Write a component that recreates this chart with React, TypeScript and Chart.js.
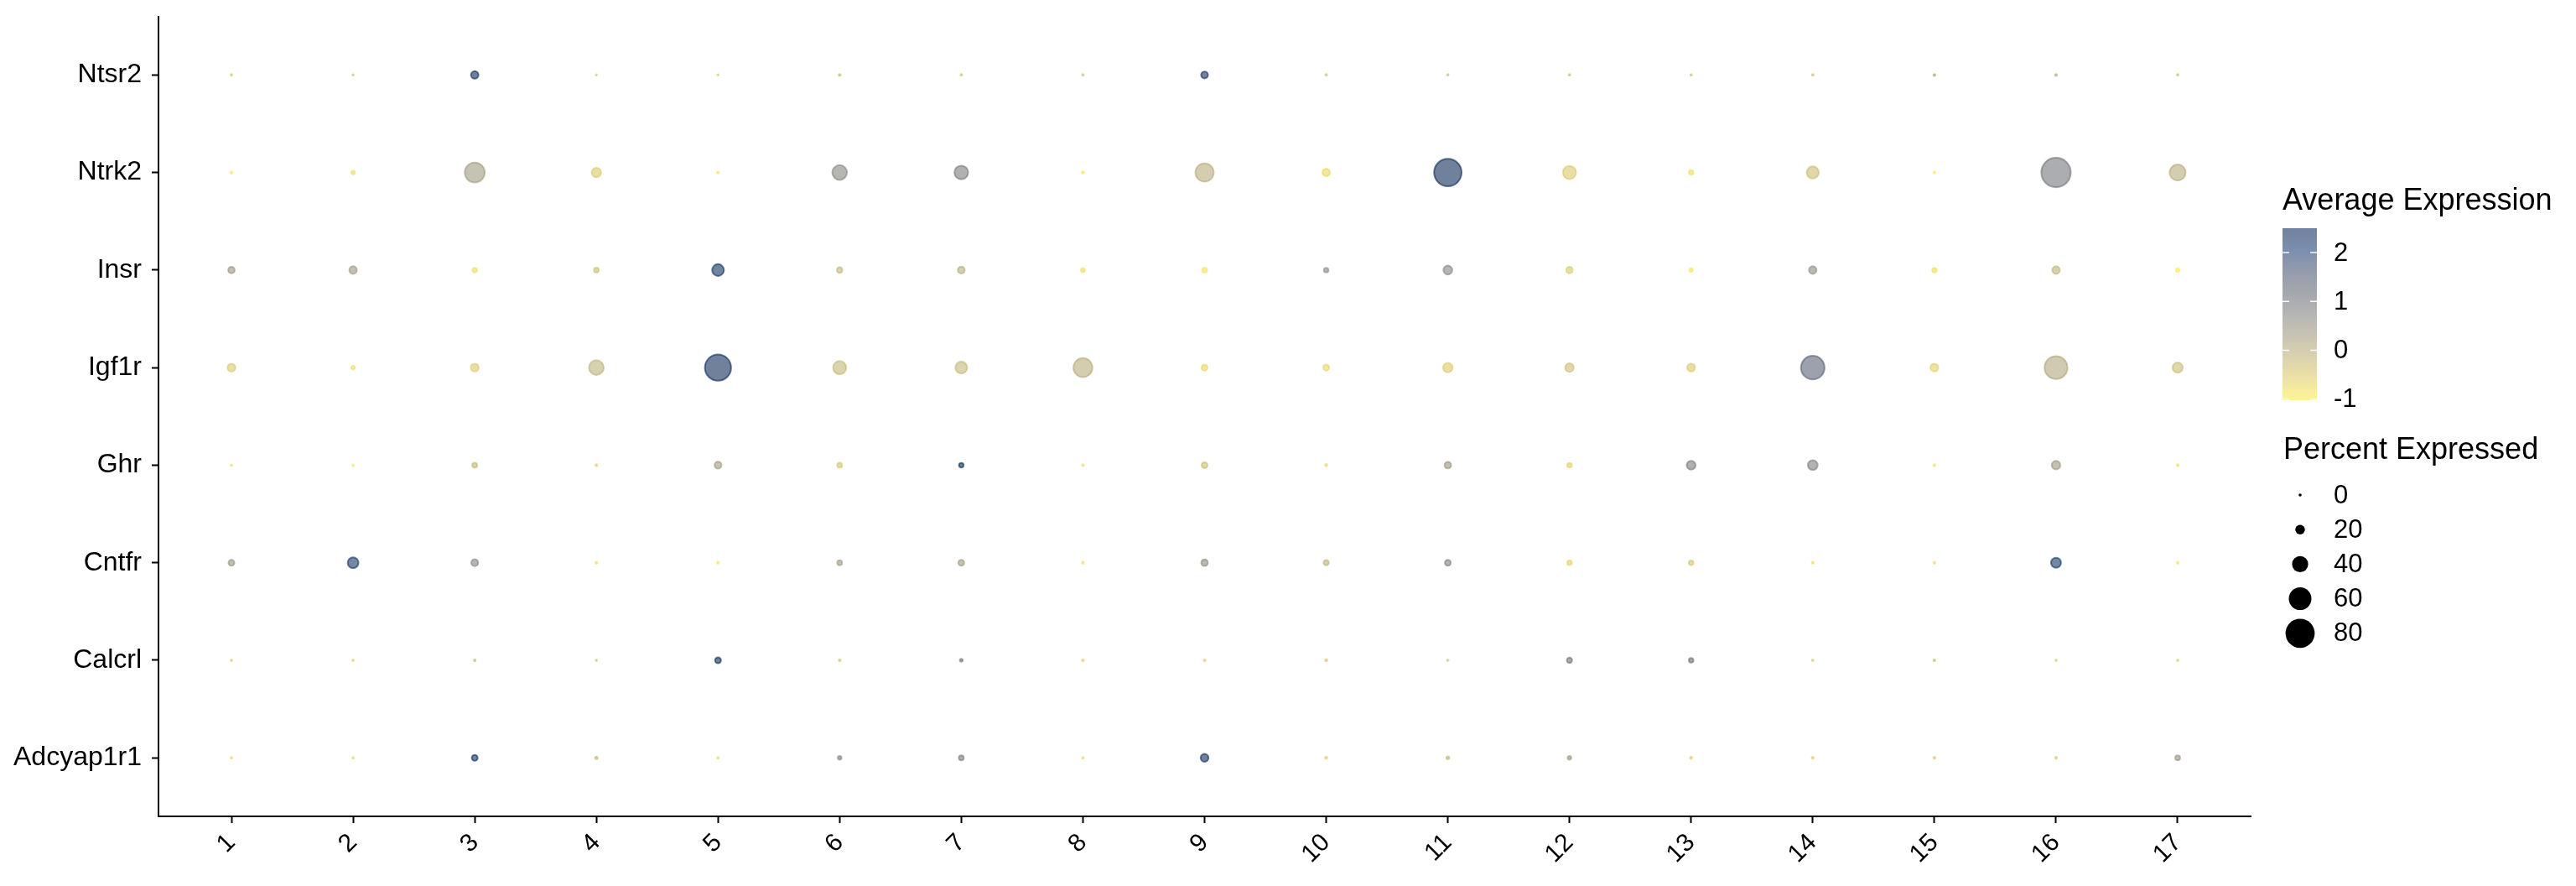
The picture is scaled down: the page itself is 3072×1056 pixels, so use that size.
import React, { useEffect, useRef } from "react";
import { Chart, registerables } from "chart.js";

Chart.register(...registerables);

// ---- data ----
const clusters = ["1", "2", "3", "4", "5", "6", "7", "8", "9", "10", "11", "12", "13", "14", "15", "16", "17"];
const genesTopDown = ["Ntsr2", "Ntrk2", "Insr", "Igf1r", "Ghr", "Cntfr", "Calcrl", "Adcyap1r1"];

// percent expressed per gene (clusters 1..17)
const pctNtsr2 = [1, 0, 19, 0, 0, 2, 1, 1, 17, 1, 1, 1, 1, 1, 2, 2, 1];
const pctNtrk2 = [2, 7, 57, 25, 2, 41, 38, 3, 52, 19, 80, 36, 10, 33, 2, 86, 45];
const pctInsr = [16, 19, 10, 11, 32, 13, 17, 8, 11, 10, 23, 16, 7, 19, 10, 19, 7];
const pctIgf1r = [20, 7, 20, 41, 76, 36, 32, 54, 14, 14, 25, 22, 20, 68, 20, 66, 27];
const pctGhr = [1, 1, 11, 2, 17, 11, 10, 2, 14, 3, 16, 10, 23, 26, 2, 22, 2];
const pctCntfr = [14, 29, 17, 2, 2, 11, 14, 2, 16, 12, 14, 10, 10, 2, 2, 27, 2];
const pctCalcrl = [1, 1, 2, 1, 14, 2, 5, 2, 2, 3, 1, 12, 10, 1, 2, 1, 1];
const pctAdcyap1r1 = [1, 1, 14, 4, 1, 7, 11, 1, 20, 3, 5, 7, 2, 2, 2, 2, 11];

// average (scaled) expression per gene (clusters 1..17)
const avgNtsr2 = [-0.4, -0.3, 2.5, -0.4, -0.4, -0.2, -0.3, -0.3, 2.4, -0.3, -0.3, -0.3, -0.3, -0.3, 0.1, 0.0, -0.3];
const avgNtrk2 = [-0.9, -0.8, 0.3, -0.5, -0.9, 0.7, 0.9, -0.9, 0.0, -0.7, 2.5, -0.5, -0.8, -0.3, -1.0, 1.0, 0.0];
const avgInsr = [0.4, 0.4, -0.8, -0.3, 2.4, -0.2, 0.0, -0.8, -0.9, 0.6, 0.7, -0.5, -0.9, 0.6, -0.8, -0.1, -1.0];
const avgIgf1r = [-0.5, -0.8, -0.5, -0.1, 2.5, -0.2, -0.2, 0.0, -0.7, -0.7, -0.5, -0.3, -0.5, 1.4, -0.6, 0.1, -0.3];
const avgGhr = [-0.8, -0.9, -0.2, -0.6, 0.3, -0.4, 2.5, -0.8, -0.3, -0.7, 0.4, -0.6, 0.9, 0.8, -0.8, 0.4, -0.8];
const avgCntfr = [0.4, 2.3, 0.7, -0.8, -0.9, 0.3, 0.3, -0.8, 0.6, -0.1, 0.8, -0.6, -0.4, -0.8, -0.8, 2.3, -0.9];
const avgCalcrl = [-0.6, -0.6, -0.3, -0.5, 2.5, -0.4, 1.0, -0.6, -0.6, -0.5, -0.4, 1.0, 1.1, -0.5, -0.3, -0.5, -0.5];
const avgAdcyap1r1 = [-0.7, -0.7, 2.4, -0.2, -0.7, 0.8, 0.9, -0.7, 2.5, -0.6, -0.2, 0.4, -0.5, -0.6, -0.5, -0.5, 0.4];

// legend breaks
const colorTicks = [2, 1, 0, -1];
const sizeBreaks = [0, 20, 40, 60, 80];
const vMin = -1.02;
const vMax = 2.5;

const pctRows = [pctNtsr2, pctNtrk2, pctInsr, pctIgf1r, pctGhr, pctCntfr, pctCalcrl, pctAdcyap1r1];
const avgRows = [avgNtsr2, avgNtrk2, avgInsr, avgIgf1r, avgGhr, avgCntfr, avgCalcrl, avgAdcyap1r1];

// ---- styling helpers ----
const FONT = "'Liberation Sans', Arial, Helvetica, sans-serif";
const ALPHA = 0.56;
const cividisStops = ["#00204D", "#123570", "#414D6B", "#5F626E", "#7C7B78", "#9B9477", "#BCAF6F", "#DECB5E", "#FFEA46"];

function hexToRgb(h: string) {
  const n = parseInt(h.slice(1), 16);
  return [(n >> 16) & 255, (n >> 8) & 255, n & 255];
}
const stopRgb = cividisStops.map(hexToRgb);

function cividis(t: number) {
  const tt = Math.max(0, Math.min(1, t)) * (stopRgb.length - 1);
  const i = Math.min(stopRgb.length - 2, Math.floor(tt));
  const f = tt - i;
  const a = stopRgb[i];
  const b = stopRgb[i + 1];
  return [0, 1, 2].map((k) => Math.round(a[k] + (b[k] - a[k]) * f));
}

function expColor(v: number, alpha = ALPHA) {
  const t = (vMax - v) / (vMax - vMin);
  const [r, g, b] = cividis(t);
  return `rgba(${r},${g},${b},${alpha})`;
}

function radius(p: number) {
  return 0.8 + 0.195 * p;
}

const points: { x: number; y: number; p: number; v: number }[] = [];
genesTopDown.forEach((g, gi) => {
  const yv = genesTopDown.length - gi;
  clusters.forEach((c, ci) => {
    points.push({ x: ci + 1, y: yv, p: pctRows[gi][ci], v: avgRows[gi][ci] });
  });
});

const legendPlugin = {
  id: "dotLegend",
  afterDraw(chart: any) {
    const ctx = chart.ctx as CanvasRenderingContext2D;
    ctx.save();
    ctx.fillStyle = "#000";
    ctx.textBaseline = "alphabetic";
    ctx.textAlign = "left";
    ctx.font = `36px ${FONT}`;
    ctx.fillText("Average Expression", 2722, 250);

    // colour bar
    const bx = 2722, bw = 41, by = 272, bh = 205;
    const grad = ctx.createLinearGradient(0, by, 0, by + bh);
    const n = 40;
    for (let i = 0; i <= n; i++) {
      const v = vMax - (i / n) * (vMax - vMin);
      grad.addColorStop(i / n, expColor(v));
    }
    ctx.fillStyle = grad;
    ctx.fillRect(bx, by, bw, bh);
    ctx.font = `31px ${FONT}`;
    ctx.textBaseline = "middle";
    colorTicks.forEach((t) => {
      const yy = by + ((vMax - t) / (vMax - vMin)) * bh;
      ctx.strokeStyle = "rgba(255,255,255,0.9)";
      ctx.lineWidth = 1.5;
      ctx.beginPath();
      ctx.moveTo(bx, yy);
      ctx.lineTo(bx + 8, yy);
      ctx.moveTo(bx + bw - 8, yy);
      ctx.lineTo(bx + bw, yy);
      ctx.stroke();
      ctx.fillStyle = "#000";
      ctx.fillText(String(t), 2783, yy + 1);
    });

    // size legend
    ctx.textBaseline = "alphabetic";
    ctx.font = `36px ${FONT}`;
    ctx.fillText("Percent Expressed", 2723, 547);
    ctx.font = `31px ${FONT}`;
    ctx.textBaseline = "middle";
    sizeBreaks.forEach((p, i) => {
      const yy = 590 + i * 41.2;
      ctx.fillStyle = "#000";
      ctx.beginPath();
      ctx.arc(2743, yy, radius(p) + 1, 0, Math.PI * 2);
      ctx.fill();
      ctx.fillText(String(p), 2783, yy + 1);
    });
    ctx.restore();
  },
};

function zeroPad(s: any) {
  s.paddingTop = 0;
  s.paddingBottom = 0;
  s.paddingLeft = 0;
  s.paddingRight = 0;
}

export default function App() {
  const ref = useRef<HTMLCanvasElement>(null);
  useEffect(() => {
    document.body.style.margin = "0";
    Chart.defaults.font.family = FONT;
    const chart = new Chart(ref.current as HTMLCanvasElement, {
      type: "scatter",
      data: {
        datasets: [
          {
            data: points as any,
            pointRadius: (c: any) => radius(c.raw.p),
            pointHoverRadius: (c: any) => radius(c.raw.p),
            backgroundColor: (c: any) => expColor(c.raw.v),
            borderColor: (c: any) => expColor(c.raw.v),
            pointBorderWidth: 2,
          } as any,
        ],
      },
      options: {
        responsive: false,
        animation: false,
        events: [],
        layout: { padding: { left: 0, top: 18, right: 388, bottom: 0 } },
        plugins: { legend: { display: false }, tooltip: { enabled: false } },
        scales: {
          x: {
            type: "linear",
            min: 0.4,
            max: 17.6,
            afterBuildTicks: (s: any) => {
              s.ticks = clusters.map((_, i) => ({ value: i + 1 }));
            },
            afterFit: (s: any) => {
              s.height = 83;
              zeroPad(s);
            },
            ticks: {
              autoSkip: false,
              maxRotation: 45,
              minRotation: 45,
              padding: 6,
              color: "#000",
              font: { size: 30, family: FONT },
              callback: (v: any) => clusters[Math.round(v) - 1],
            },
            grid: { drawOnChartArea: false, drawTicks: true, tickLength: 8, tickColor: "#000", tickWidth: 2 },
            border: { display: true, color: "#000", width: 2 },
          },
          y: {
            type: "linear",
            min: 0.4,
            max: 8.6,
            afterBuildTicks: (s: any) => {
              s.ticks = genesTopDown.map((_, i) => ({ value: i + 1 }));
            },
            afterFit: (s: any) => {
              s.width = 189;
              zeroPad(s);
            },
            ticks: {
              autoSkip: false,
              padding: 12,
              color: "#000",
              font: { size: 32, family: FONT },
              callback: (v: any) => genesTopDown[genesTopDown.length - Math.round(v)],
            },
            grid: { drawOnChartArea: false, drawTicks: true, tickLength: 8, tickColor: "#000", tickWidth: 2 },
            border: { display: true, color: "#000", width: 2 },
          },
        },
      },
      plugins: [legendPlugin],
    });
    return () => chart.destroy();
  }, []);
  return (
    <div style={{ position: "absolute", left: 0, top: 0, width: 3072, height: 1056, background: "#fff" }}>
      <canvas ref={ref} width={3072} height={1056} style={{ width: 3072, height: 1056, display: "block" }} />
    </div>
  );
}
